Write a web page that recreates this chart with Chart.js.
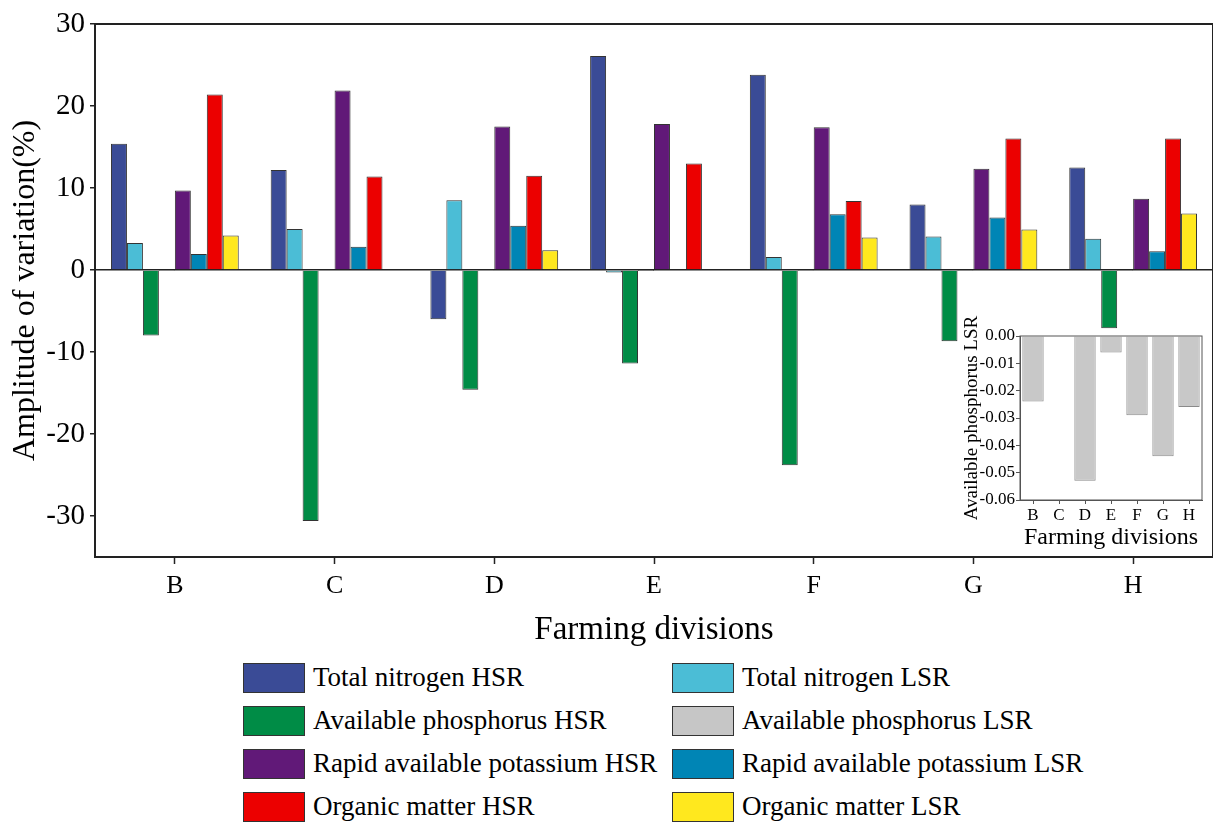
<!DOCTYPE html>
<html>
<head>
<meta charset="utf-8">
<script src="https://cdn.jsdelivr.net/npm/chart.js@4.4.1/dist/chart.umd.min.js"></script>
<style>
  html, body { margin: 0; padding: 0; background: #fff; overflow: hidden; }
  #wrap { position: relative; width: 1213px; height: 826px; }
  #main { position: absolute; left: 0; top: 0; z-index: 2; }
  #inset { position: absolute; left: 955px; top: 310px; z-index: 1; background: #fff; }
  #legend {
    position: absolute; left: 243px; top: 662px; z-index: 3;
    display: grid; grid-template-columns: 429px 460px; row-gap: 12px;
    font-family: "Liberation Serif", "Times New Roman", serif; font-size: 27px; color: #000;
  }
  .item { display: flex; align-items: center; height: 31px; white-space: nowrap; }
  .box { width: 62px; height: 30px; border: 1px solid #333; margin-right: 8px; box-sizing: border-box; flex: none; }
</style>
</head>
<body>
<div id="wrap">
  <canvas id="inset" width="255" height="244"></canvas>
  <canvas id="main" width="1213" height="652"></canvas>
  <div id="legend"></div>
</div>
<script>
// Datos
const divisiones = ['B', 'C', 'D', 'E', 'F', 'G', 'H'];
const ticksY = [-30, -20, -10, 0, 10, 20, 30];
const ticksInset = [0, -0.01, -0.02, -0.03, -0.04, -0.05, -0.06];

const nitrogenoHSR = [15.4, 12.2, -6.0, 26.1, 23.8, 8.0, 12.5];
const nitrogenoLSR = [3.3, 5.0, 8.5, -0.3, 1.6, 4.1, 3.8];
const fosforoHSR = [-8.0, -30.6, -14.6, -11.4, -23.8, -8.7, -7.1];
const fosforoLSR = [-0.024, 0, -0.053, -0.006, -0.029, -0.044, -0.026];
const potasioHSR = [9.7, 21.9, 17.5, 17.8, 17.4, 12.35, 8.7];
const potasioLSR = [1.95, 2.85, 5.4, 0, 6.8, 6.4, 2.3];
const materiaHSR = [21.4, 11.4, 11.5, 13.0, 8.4, 16.05, 16.05];
const materiaLSR = [4.2, 0, 2.4, 0, 3.95, 4.95, 6.9];

const series = [
    { label: 'Total nitrogen HSR', data: nitrogenoHSR, color: '#3a4b96' },
    { label: 'Total nitrogen LSR', data: nitrogenoLSR, color: '#4bbdd6' },
    { label: 'Available phosphorus HSR', data: fosforoHSR, color: '#008c46' },
    { label: 'Available phosphorus LSR', data: fosforoLSR, color: '#c6c6c6' },
    { label: 'Rapid available potassium HSR', data: potasioHSR, color: '#611978' },
    { label: 'Rapid available potassium LSR', data: potasioLSR, color: '#0085b5' },
    { label: 'Organic matter HSR', data: materiaHSR, color: '#ec0000' },
    { label: 'Organic matter LSR', data: materiaLSR, color: '#ffe81e' }
];

const fuente = '"Liberation Serif", "Times New Roman", serif';
Chart.defaults.font.family = fuente;
Chart.defaults.color = '#000';
Chart.defaults.animation = false;

// Marco alrededor del área del gráfico
const marco = {
    id: 'marco',
    afterDraw(chart, args, opts) {
        const { ctx, chartArea: a } = chart;
        ctx.save();
        ctx.strokeStyle = opts.color || '#222';
        ctx.lineWidth = opts.width || 2;
        ctx.strokeRect(a.left, a.top, a.right - a.left, a.bottom - a.top);
        ctx.restore();
    }
};

const principal = new Chart(document.getElementById('main'), {
    type: 'bar',
    data: {
        labels: divisiones,
        datasets: series.map(s => ({
            label: s.label,
            data: s.data,
            backgroundColor: s.color,
            borderColor: '#333',
            borderWidth: 1,
            barPercentage: 1,
            categoryPercentage: 0.8
        }))
    },
    options: {
        responsive: false,
        layout: { padding: { top: 24, right: 0, left: 0, bottom: 0 } },
        plugins: { legend: { display: false }, tooltip: { enabled: false }, marco: { width: 2 } },
        scales: {
            x: {
                grid: { offset: false, drawOnChartArea: false, tickLength: 7, tickColor: '#222', tickWidth: 1.5 },
                border: { color: '#222', width: 2 },
                ticks: { font: { size: 26 }, padding: 7 },
                title: { display: true, text: 'Farming divisions', font: { size: 33 }, padding: { top: 0, bottom: 2 } },
                afterFit(scale) { scale.height = 95; }
            },
            y: {
                min: -35,
                max: 30,
                afterBuildTicks(scale) { scale.ticks = ticksY.map(v => ({ value: v })); },
                grid: {
                    color: ctx => (ctx.tick && ctx.tick.value === 0) ? '#222' : 'rgba(0,0,0,0)',
                    lineWidth: 1.5,
                    tickColor: '#222',
                    tickLength: 5
                },
                border: { color: '#222', width: 2 },
                ticks: { font: { size: 29 }, padding: 5 },
                title: { display: true, text: 'Amplitude of variation(%)', font: { size: 32 }, padding: { top: 6, bottom: 0 } },
                afterFit(scale) { scale.width = 95; }
            }
        }
    },
    plugins: [marco]
});

const recuadro = new Chart(document.getElementById('inset'), {
    type: 'bar',
    data: {
        labels: divisiones,
        datasets: [{
            label: 'Available phosphorus LSR',
            data: fosforoLSR,
            backgroundColor: '#c8c8c8',
            borderColor: '#8a8a8a',
            borderWidth: 1,
            barPercentage: 1,
            categoryPercentage: 0.82
        }]
    },
    options: {
        responsive: false,
        layout: { padding: { top: 26, right: 8, left: 0, bottom: 0 } },
        plugins: { legend: { display: false }, tooltip: { enabled: false }, marco: { width: 1, color: '#555' } },
        scales: {
            x: {
                grid: { offset: false, drawOnChartArea: false, tickLength: 4, tickColor: '#555' },
                border: { color: '#555', width: 1 },
                ticks: { font: { size: 17 }, padding: 1 },
                title: { display: true, text: 'Farming divisions', font: { size: 24 }, padding: { top: 0, bottom: 2 } },
                afterFit(scale) { scale.height = 54; }
            },
            y: {
                min: -0.06,
                max: 0,
                afterBuildTicks(scale) { scale.ticks = ticksInset.map(v => ({ value: v })); },
                grid: { drawOnChartArea: false, tickLength: 4, tickColor: '#555' },
                border: { color: '#555', width: 1 },
                ticks: { font: { size: 17 }, padding: 1, callback: v => v.toFixed(2) },
                title: { display: true, text: 'Available phosphorus LSR', font: { size: 19 }, padding: { top: 6, bottom: 0 } },
                afterFit(scale) { scale.width = 65; }
            }
        }
    },
    plugins: [marco]
});

// Leyenda en dos columnas construida desde los datasets
const leyenda = document.getElementById('legend');
principal.data.datasets.forEach(ds => {
    const item = document.createElement('div');
    item.className = 'item';
    const caja = document.createElement('span');
    caja.className = 'box';
    caja.style.background = ds.backgroundColor;
    const texto = document.createElement('span');
    texto.textContent = ds.label;
    item.appendChild(caja);
    item.appendChild(texto);
    leyenda.appendChild(item);
});
</script>
</body>
</html>
